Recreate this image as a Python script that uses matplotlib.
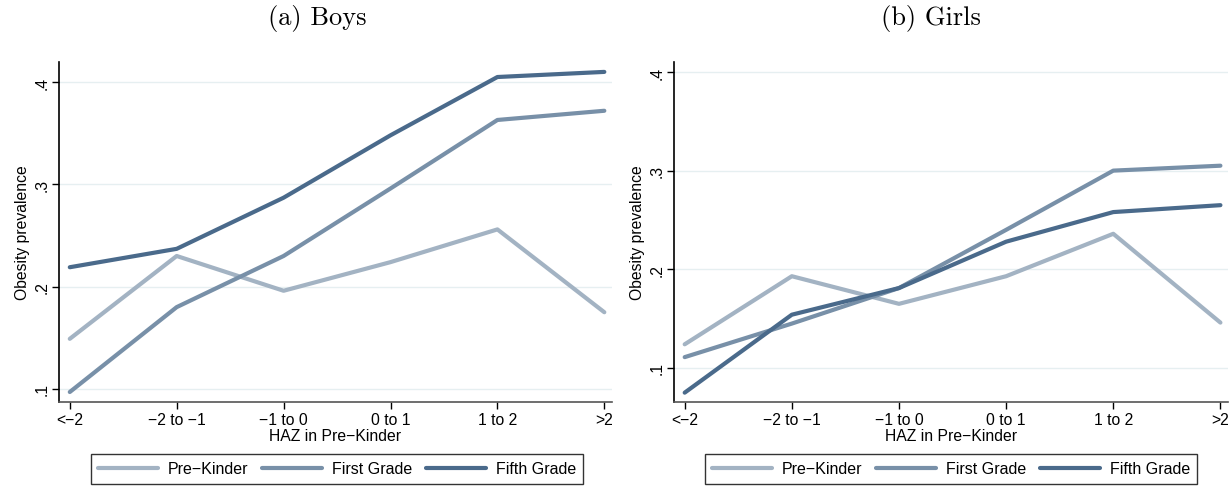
import matplotlib.pyplot as plt

plt.rcParams['font.family'] = ['Liberation Sans', 'DejaVu Sans']

haz_groups = ['<\u22122', '\u22122 to \u22121', '\u22121 to 0', '0 to 1', '1 to 2', '>2']
series_names = ['Pre\u2212Kinder', 'First Grade', 'Fifth Grade']

boys_prek = [0.149, 0.230, 0.196, 0.224, 0.256, 0.175]
boys_first = [0.097, 0.180, 0.230, 0.296, 0.363, 0.372]
boys_fifth = [0.219, 0.237, 0.287, 0.348, 0.405, 0.410]

girls_prek = [0.124, 0.193, 0.165, 0.193, 0.236, 0.146]
girls_first = [0.111, 0.145, 0.181, 0.240, 0.300, 0.305]
girls_fifth = [0.075, 0.154, 0.181, 0.228, 0.258, 0.265]

COLORS = ['#a3b3c3', '#7890a8', '#4a6a8b']
FS = 11.3


def draw_panel(fig, rect, title, title_x, series, ylim, legend_x):
    ax = fig.add_axes(rect)
    x = range(len(haz_groups))
    for vals, name, c in zip(series, series_names, COLORS):
        ax.plot(x, vals, color=c, lw=3, label=name, solid_capstyle='round')
    ax.set_xlim(-0.1, 5.07)
    ax.set_ylim(*ylim)
    ax.set_xticks(list(x))
    ax.set_xticklabels(haz_groups, fontsize=FS)
    ax.set_yticks([0.1, 0.2, 0.3, 0.4])
    ax.set_yticklabels(['.1', '.2', '.3', '.4'], rotation=90, va='center', fontsize=FS)
    ax.grid(axis='y', color='#e6eff1', lw=1)
    ax.set_axisbelow(True)
    for s in ['top', 'right']:
        ax.spines[s].set_visible(False)
    ax.spines['left'].set_color('black')
    ax.spines['bottom'].set_color('#555555')
    ax.spines['left'].set_linewidth(1.2)
    ax.spines['bottom'].set_linewidth(1.2)
    ax.tick_params(length=5, width=1, pad=2)
    ax.set_xlabel('HAZ in Pre\u2212Kinder', fontsize=FS, labelpad=1)
    ax.set_ylabel('Obesity prevalence', fontsize=FS, labelpad=3)
    # panel caption sits over the whole sub-figure, not just the axes
    fig.text(title_x, 0.962, title, family='cmr10', fontsize=19, ha='center', va='center')
    ax.legend(loc='center', bbox_to_anchor=(legend_x, 0.0389), bbox_transform=fig.transFigure,
              ncol=3, frameon=True, fancybox=False, edgecolor='black', fontsize=11.5,
              handlelength=3.75, columnspacing=0.9, borderpad=0.45, handletextpad=0.6,
              borderaxespad=0)
    ax.get_legend().get_frame().set_linewidth(1.0)
    return ax


fig = plt.figure(figsize=(12.31, 4.89), dpi=100)
draw_panel(fig, [0.048, 0.176, 0.449, 0.695], '(a) Boys', 317 / 1231,
           [boys_prek, boys_first, boys_fifth], (0.0873, 0.4196), 0.2738)
draw_panel(fig, [0.5475, 0.176, 0.450, 0.695], '(b) Girls', 931 / 1231,
           [girls_prek, girls_first, girls_fifth], (0.0656, 0.41), 0.7725)

fig.savefig('out.png', dpi=100)
